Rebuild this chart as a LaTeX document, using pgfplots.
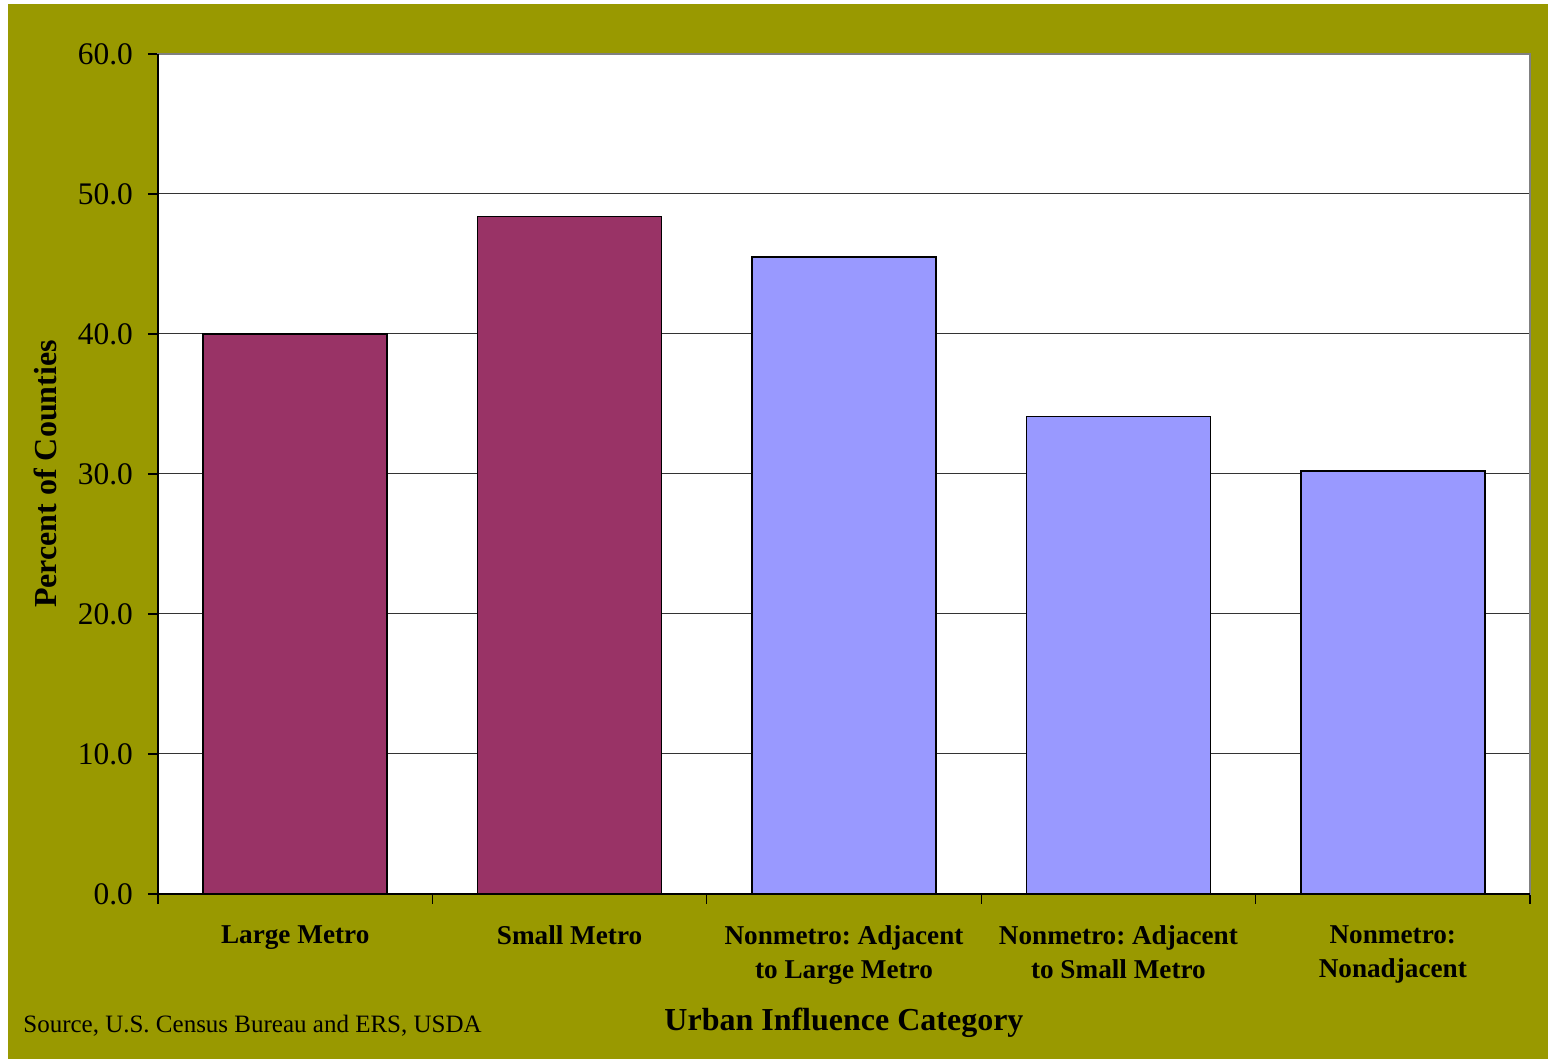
\documentclass[border=0pt]{standalone}
\usepackage{fontspec}
\setmainfont{Liberation Serif}
\usepackage{pgfplots}
\pgfplotsset{compat=1.18}
\definecolor{bgolive}{HTML}{999900}
\definecolor{barmaroon}{HTML}{993366}
\definecolor{barlav}{HTML}{9999FF}
\frenchspacing
\begin{document}
\begin{tikzpicture}
\fill[white] (-79pt,-82.5pt) rectangle (695pt,447pt);
\fill[bgolive] (-75pt,-82.5pt) rectangle (695pt,445pt);
\begin{axis}[
  at={(0,0)}, anchor=south west,
  scale only axis, width=686pt, height=420pt,
  xmin=-0.5, xmax=4.5, ymin=0, ymax=60,
  axis background/.style={fill=white},
  axis line style={draw=gray, line width=0.6pt},
  ytick={0,10,...,60},
  ymajorgrids, grid style={draw=black!80, line width=0.5pt},
  tick align=outside, major tick length=5pt,
  xtick pos=bottom, ytick pos=left,
  tick style={black, line width=0.6pt},
  xtick={-0.5,0.5,1.5,2.5,3.5,4.5}, xticklabels={},
  extra x ticks={0,1,2,3,4},
  extra x tick labels={Large Metro, Small Metro, {Nonmetro: Adjacent\\to Large Metro}, {Nonmetro: Adjacent\\to Small Metro}, {Nonmetro:\\Nonadjacent}},
  extra x tick style={major tick length=0pt, grid=none,
    xticklabel style={align=center, anchor=north, inner sep=0pt, yshift=-15.8pt,
      font=\bfseries\fontsize{13.6}{17}\selectfont}},
  yticklabel style={font=\fontsize{15.7}{17}\selectfont, xshift=-4pt},
  /pgf/number format/assume math mode=true,
  yticklabel={\pgfmathprintnumber[fixed, fixed zerofill, precision=1]{\tick}},
  xlabel={Urban Influence Category},
  xlabel style={at={(axis description cs:0.5,0)}, anchor=center, yshift=-64.5pt, font=\bfseries\fontsize{16}{18}\selectfont},
  ylabel={Percent of Counties},
  ylabel style={at={(axis description cs:-0.0824,0.5)}, anchor=center, font=\bfseries\fontsize{16}{18}\selectfont},
  clip=false,
]
\addplot[ybar, bar width=0.67, bar shift=0pt, fill=barmaroon, draw=black, line width=0.8pt]
  coordinates {(0,40.0) (1,48.4)};
\addplot[ybar, bar width=0.67, bar shift=0pt, fill=barlav, draw=black, line width=0.8pt]
  coordinates {(2,45.5) (3,34.1) (4,30.2)};
\draw[black, line width=0.7pt] (rel axis cs:0,1) -- (rel axis cs:0,0) -- (rel axis cs:1,0);
\end{axis}
\node[anchor=west, inner sep=0pt, font=\fontsize{12.5}{14}\selectfont] at (-67.5pt,-66pt) {Source, U.S. Census Bureau and ERS, USDA};
\end{tikzpicture}
\end{document}
